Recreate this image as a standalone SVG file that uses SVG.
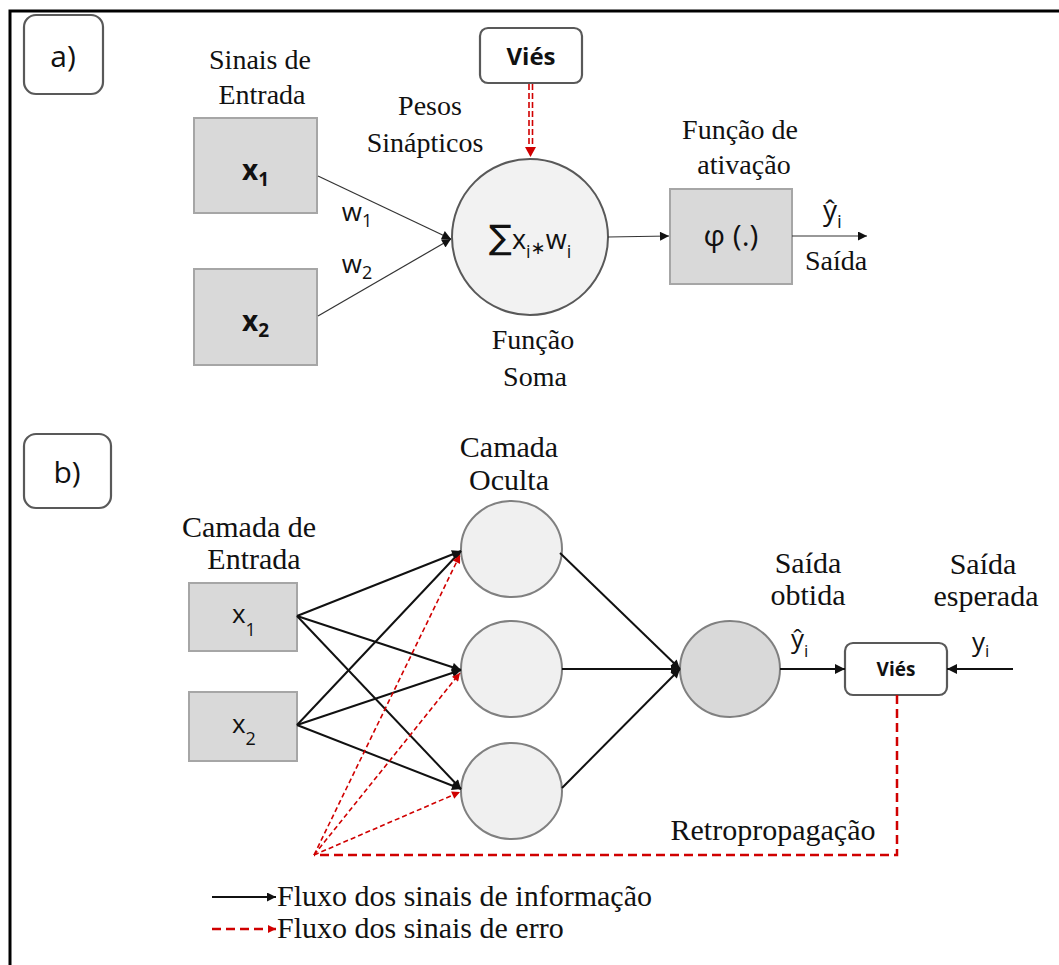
<svg xmlns="http://www.w3.org/2000/svg" width="1059" height="965" viewBox="0 0 1059 965">
<style>
text.serif{font-family:'Liberation Serif','Times New Roman',Tinos,'DejaVu Serif',serif;fill:#111;}
text.sans{font-family:'Open Sans','DejaVu Sans',sans-serif;fill:#111;}
.gbox{fill:#d9d9d9;stroke:#a6a6a6;stroke-width:2;}
.rbox{fill:#fff;stroke:#595959;stroke-width:2.2;}
.thin{stroke:#333;stroke-width:1.2;fill:none;}
.blk{stroke:#111;stroke-width:2;fill:none;}
.red{stroke:#d00000;fill:none;}
</style>
<defs>
<marker id="ah" viewBox="0 0 10 10" refX="10" refY="5" markerWidth="11" markerHeight="9" markerUnits="userSpaceOnUse" orient="auto"><path d="M0,0 L10,5 L0,10 z" fill="#111"/></marker>
<marker id="ahs" viewBox="0 0 10 10" refX="10" refY="5" markerWidth="12" markerHeight="10" markerUnits="userSpaceOnUse" orient="auto"><path d="M0,0 L10,5 L0,10 z" fill="#111"/></marker>
<marker id="ahr" viewBox="0 0 10 10" refX="10" refY="5" markerWidth="9" markerHeight="8" markerUnits="userSpaceOnUse" orient="auto"><path d="M0,0 L10,5 L0,10 z" fill="#d00000"/></marker>
</defs>
<rect width="1059" height="965" fill="#fff"/>
<path d="M1059,11 H10 V965" fill="none" stroke="#000" stroke-width="3"/>

<g id="label-a">
<rect x="24" y="15" width="79" height="79" rx="12" class="rbox"/>
<text x="63" y="67" class="sans" font-size="30" text-anchor="middle">a)</text>
</g>
<g id="a-title-input">
<text x="260" y="69" class="serif" font-family="Liberation Serif" font-size="28" text-anchor="middle">Sinais de</text>
<text x="262" y="104" class="serif" font-family="Liberation Serif" font-size="28" text-anchor="middle">Entrada</text>
</g>
<g id="a-x1">
<rect x="194" y="118" width="123" height="95" class="gbox"/>
<text x="242" y="180" class="sans" font-size="28" font-weight="bold">x<tspan font-size="19" dy="6">1</tspan></text>
</g>
<g id="a-x2">
<rect x="194" y="269" width="123" height="96" class="gbox"/>
<text x="242" y="331" class="sans" font-size="28" font-weight="bold">x<tspan font-size="19" dy="6">2</tspan></text>
</g>
<g id="a-weights-label">
<text x="430" y="115" class="serif" font-family="Liberation Serif" font-size="28" text-anchor="middle">Pesos</text>
<text x="425" y="152" class="serif" font-family="Liberation Serif" font-size="28" text-anchor="middle">Sinápticos</text>
</g>
<g id="a-bias">
<rect x="480" y="28" width="102" height="55" rx="8" class="rbox"/>
<text x="531" y="65" class="sans" font-size="24" font-weight="bold" text-anchor="middle">Viés</text>
</g>
<g id="a-sum">
<circle cx="530" cy="237" r="78" fill="#f2f2f2" stroke="#595959" stroke-width="2"/>
<text x="489" y="249" class="sans" font-size="27"><tspan font-family="DejaVu Sans" font-size="34">∑</tspan>x<tspan font-size="18" dy="9">i</tspan><tspan font-size="18" dy="-4">∗</tspan><tspan dy="-5">w</tspan><tspan font-size="18" dy="9">i</tspan></text>
<text x="533" y="349" class="serif" font-family="Liberation Serif" font-size="28" text-anchor="middle">Função</text>
<text x="535" y="386" class="serif" font-family="Liberation Serif" font-size="28" text-anchor="middle">Soma</text>
</g>
<g id="a-activation">
<rect x="670" y="189" width="122" height="95" class="gbox"/>
<text x="731" y="246" class="sans" font-size="30" text-anchor="middle">φ (.)</text>
<text x="740" y="139" class="serif" font-family="Liberation Serif" font-size="28" text-anchor="middle">Função de</text>
<text x="744" y="174" class="serif" font-family="Liberation Serif" font-size="28" text-anchor="middle">ativação</text>
</g>
<g id="a-output">
<text x="823" y="220" class="sans" font-size="28">ŷ<tspan font-size="19" dy="8">i</tspan></text>
<text x="836" y="270" class="serif" font-family="Liberation Serif" font-size="28" text-anchor="middle">Saída</text>
</g>

<g id="label-b">
<rect x="24" y="434" width="87" height="74" rx="12" class="rbox"/>
<text x="67" y="483" class="sans" font-size="30" text-anchor="middle">b)</text>
</g>
<g id="b-title-input">
<text x="249" y="537" class="serif" font-family="Liberation Serif" font-size="30" text-anchor="middle">Camada de</text>
<text x="254" y="569" class="serif" font-family="Liberation Serif" font-size="30" text-anchor="middle">Entrada</text>
</g>
<g id="b-x1">
<rect x="189" y="583" width="108" height="68" class="gbox"/>
<text x="232" y="623" class="sans" font-size="26">x<tspan font-size="18" dy="13">1</tspan></text>
</g>
<g id="b-x2">
<rect x="189" y="692" width="108" height="69" class="gbox"/>
<text x="232" y="733" class="sans" font-size="26">x<tspan font-size="18" dy="12">2</tspan></text>
</g>
<g id="b-hidden-title">
<text x="509" y="457" class="serif" font-family="Liberation Serif" font-size="30" text-anchor="middle">Camada</text>
<text x="509" y="490" class="serif" font-family="Liberation Serif" font-size="30" text-anchor="middle">Oculta</text>
</g>
<g id="b-h1"><ellipse cx="511.5" cy="549" rx="50.5" ry="48" fill="#f0f0f0" stroke="#808080" stroke-width="2"/></g>
<g id="b-h2"><ellipse cx="511.5" cy="669" rx="50.5" ry="48" fill="#f0f0f0" stroke="#808080" stroke-width="2"/></g>
<g id="b-h3"><ellipse cx="511.5" cy="791" rx="50.5" ry="48" fill="#f0f0f0" stroke="#808080" stroke-width="2"/></g>
<g id="b-out">
<ellipse cx="730" cy="669" rx="50" ry="48" fill="#d9d9d9" stroke="#808080" stroke-width="2"/>
<text x="808" y="573" class="serif" font-family="Liberation Serif" font-size="30" text-anchor="middle">Saída</text>
<text x="808" y="605" class="serif" font-family="Liberation Serif" font-size="30" text-anchor="middle">obtida</text>
<text x="791" y="648" class="sans" font-size="26">ŷ<tspan font-size="17" dy="9">i</tspan></text>
</g>
<g id="b-bias">
<rect x="845" y="643" width="102" height="52" rx="8" class="rbox"/>
<text x="896" y="676" class="sans" font-size="19" font-weight="bold" text-anchor="middle">Viés</text>
</g>
<g id="b-expected">
<text x="983" y="574" class="serif" font-family="Liberation Serif" font-size="30" text-anchor="middle">Saída</text>
<text x="986" y="606" class="serif" font-family="Liberation Serif" font-size="30" text-anchor="middle">esperada</text>
<text x="972" y="651" class="sans" font-size="26">y<tspan font-size="17" dy="6">i</tspan></text>
</g>
<g id="b-backprop-label">
<text x="773" y="840" class="serif" font-family="Liberation Serif" font-size="30" text-anchor="middle">Retropropagação</text>
</g>
<g id="legend">
<line x1="212" y1="897" x2="276" y2="897" class="blk" stroke-width="2.5" marker-end="url(#ah)"/>
<text x="277" y="906" class="serif" font-family="Liberation Serif" font-size="30">Fluxo dos sinais de informação</text>
<line x1="212" y1="929" x2="276" y2="929" class="red" stroke-width="2.5" stroke-dasharray="9,5" marker-end="url(#ahr)"/>
<text x="277" y="938" class="serif" font-family="Liberation Serif" font-size="30">Fluxo dos sinais de erro</text>
</g>

<g id="connectors">
<line x1="318" y1="176" x2="451" y2="239" class="thin" marker-end="url(#ah)"/>
<line x1="318" y1="316" x2="451" y2="239" class="thin" marker-end="url(#ah)"/>
<line x1="608" y1="237" x2="669" y2="236" class="thin" marker-end="url(#ah)"/>
<line x1="792" y1="236" x2="867" y2="236" class="thin" marker-end="url(#ah)"/>
<line x1="529" y1="84" x2="529" y2="149" class="red" stroke-width="1.6" stroke-dasharray="6,3"/>
<line x1="532.5" y1="84" x2="532.5" y2="149" class="red" stroke-width="1.6" stroke-dasharray="6,3"/>
<path d="M525,147 L536,147 L530.5,157 z" fill="#d00000"/>
<text x="357" y="221" class="sans" font-size="26" text-anchor="middle">w<tspan font-size="18" dy="6">1</tspan></text>
<text x="357" y="273" class="sans" font-size="26" text-anchor="middle">w<tspan font-size="18" dy="6">2</tspan></text>
<line x1="297" y1="616" x2="461" y2="551" class="blk" marker-end="url(#ah)"/>
<line x1="297" y1="616" x2="461" y2="670" class="blk" marker-end="url(#ah)"/>
<line x1="297" y1="616" x2="461" y2="789" class="blk" marker-end="url(#ah)"/>
<line x1="297" y1="725" x2="461" y2="551" class="blk" marker-end="url(#ah)"/>
<line x1="297" y1="725" x2="461" y2="670" class="blk" marker-end="url(#ah)"/>
<line x1="297" y1="725" x2="461" y2="789" class="blk" marker-end="url(#ah)"/>
<line x1="560" y1="553" x2="680" y2="669" class="blk" marker-end="url(#ah)"/>
<line x1="562" y1="669" x2="680" y2="669" class="blk" marker-end="url(#ah)"/>
<line x1="562" y1="788" x2="680" y2="669" class="blk" marker-end="url(#ah)"/>
<line x1="780" y1="669" x2="845" y2="669" class="blk" stroke-width="2.8" marker-end="url(#ahs)"/>
<line x1="1013" y1="669" x2="947" y2="669" class="blk" stroke-width="2.8" marker-end="url(#ahs)"/>
<path d="M897,695 V855 H314" class="red" stroke-width="2.5" stroke-dasharray="9,5"/>
<line x1="314" y1="855" x2="460" y2="555" class="red" stroke-width="1.6" stroke-dasharray="5,3" marker-end="url(#ahr)"/>
<line x1="314" y1="855" x2="460" y2="673" class="red" stroke-width="1.6" stroke-dasharray="5,3" marker-end="url(#ahr)"/>
<line x1="314" y1="855" x2="460" y2="792" class="red" stroke-width="1.6" stroke-dasharray="5,3" marker-end="url(#ahr)"/>
</g>
</svg>
